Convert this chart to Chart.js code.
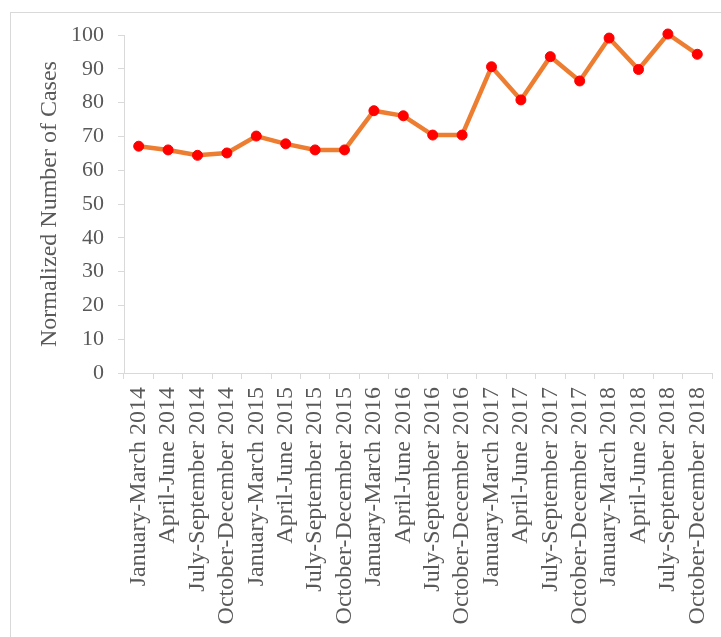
<!DOCTYPE html>
<html>
<head>
<meta charset="utf-8">
<script src="https://cdn.jsdelivr.net/npm/chart.js@4/dist/chart.umd.min.js"></script>
<style>
  html, body { margin: 0; padding: 0; background: #ffffff; overflow: hidden; }
  #wrap { position: relative; width: 721px; height: 637px; overflow: hidden; }
  #frame { position: absolute; left: 10px; top: 12px; width: 800px; height: 700px; border: 1px solid #d9d9d9; }
  #c { position: absolute; left: 0; top: 0; }
</style>
</head>
<body>
<div id="wrap">
  <div id="frame"></div>
  <canvas id="c" width="721" height="637"></canvas>
</div>
<script>
const categories = [
  "January-March 2014", "April-June 2014", "July-September 2014", "October-December 2014",
  "January-March 2015", "April-June 2015", "July-September 2015", "October-December 2015",
  "January-March 2016", "April-June 2016", "July-September 2016", "October-December 2016",
  "January-March 2017", "April-June 2017", "July-September 2017", "October-December 2017",
  "January-March 2018", "April-June 2018", "July-September 2018", "October-December 2018"
];
const normalizedCases = [
  67.1, 66.0, 64.4, 65.1, 70.1, 67.8, 66.0, 66.0, 77.6, 76.1,
  70.4, 70.4, 90.6, 80.8, 93.6, 86.4, 99.1, 89.8, 100.3, 94.3
];
const yAxisTitle = "Normalized Number of Cases";

const textColor = "#595959";
const axisColor = "#d9d9d9";
const fontFamily = "'Liberation Serif', 'Times New Roman', serif";

new Chart(document.getElementById("c"), {
  type: "line",
  data: {
    labels: categories,
    datasets: [{
      data: normalizedCases,
      borderColor: "#ED7D31",
      borderWidth: 4.5,
      backgroundColor: "#FF0000",
      pointBackgroundColor: "#FF0000",
      pointBorderColor: "#FF0000",
      pointBorderWidth: 1,
      pointRadius: 5,
      tension: 0,
      fill: false,
      clip: false
    }]
  },
  options: {
    responsive: false,
    animation: false,
    events: [],
    layout: { padding: { left: 0, top: 35, right: 9, bottom: 0 } },
    plugins: { legend: { display: false }, tooltip: { enabled: false } },
    scales: {
      x: {
        type: "category",
        offset: true,
        grid: { offset: true, drawOnChartArea: false, drawTicks: true, tickLength: 6, color: axisColor, lineWidth: 1 },
        border: { display: true, color: axisColor, width: 1 },
        ticks: {
          autoSkip: false, minRotation: 90, maxRotation: 90, padding: 8,
          color: textColor, font: { family: fontFamily, size: 24 }
        },
        afterFit: (s) => { s.height = 637 - 373; s.paddingLeft = 0; s.paddingRight = 0; }
      },
      y: {
        min: 0, max: 100,
        grid: { drawOnChartArea: false, drawTicks: true, tickLength: 6, color: axisColor, lineWidth: 1 },
        border: { display: true, color: axisColor, width: 1 },
        ticks: { stepSize: 10, padding: 14, color: textColor, font: { family: fontFamily, size: 22 } },
        title: {
          display: true, text: yAxisTitle, color: textColor,
          font: { family: fontFamily, size: 24 },
          padding: { top: 35, bottom: 0 }
        },
        afterFit: (s) => { s.width = 124; s.paddingTop = 0; s.paddingBottom = 0; }
      }
    }
  }
});
</script>
</body>
</html>
